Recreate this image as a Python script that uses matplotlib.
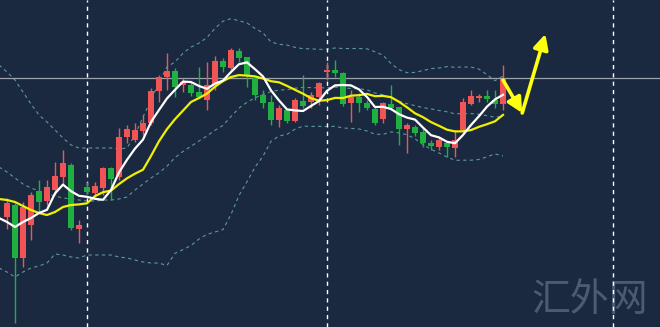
import matplotlib.pyplot as plt

# K线数据 (price)
opens = [1783, 1795, 1742, 1775, 1809, 1799, 1810, 1823, 1835, 1771, 1813, 1807, 1812, 1832, 1823, 1863,
         1860, 1869, 1877, 1909, 1923, 1929, 1915, 1915, 1908, 1900, 1915, 1939, 1932, 1949, 1943, 1922,
         1905, 1898, 1880, 1890, 1879, 1899, 1898, 1903, 1928, 1930, 1927, 1897, 1903, 1897, 1891, 1881,
         1896, 1893, 1871, 1873, 1868, 1857, 1853, 1857, 1852, 1870, 1896, 1902, 1904, 1900, 1896]
closes = [1797, 1742, 1793, 1805, 1798, 1813, 1824, 1837, 1772, 1775, 1808, 1814, 1832, 1821, 1863, 1871,
          1870, 1877, 1909, 1923, 1929, 1913, 1918, 1907, 1903, 1915, 1939, 1933, 1950, 1942, 1924, 1905,
          1897, 1880, 1892, 1879, 1900, 1894, 1905, 1917, 1930, 1927, 1896, 1903, 1897, 1892, 1877, 1897,
          1892, 1871, 1875, 1867, 1857, 1854, 1860, 1853, 1860, 1898, 1904, 1904, 1901, 1896, 1921]
highs = [1802, 1797, 1798, 1808, 1820, 1820, 1838, 1850, 1837, 1780, 1818, 1818, 1833, 1833, 1872, 1875,
         1877, 1885, 1912, 1925, 1947, 1932, 1922, 1918, 1933, 1938, 1944, 1942, 1952, 1952, 1943, 1923,
         1910, 1905, 1895, 1892, 1902, 1925, 1908, 1918, 1938, 1940, 1928, 1910, 1907, 1900, 1893, 1898,
         1915, 1893, 1877, 1875, 1872, 1860, 1862, 1858, 1870, 1902, 1910, 1906, 1910, 1910, 1935]
lows = [1771, 1677, 1733, 1760, 1787, 1795, 1805, 1815, 1770, 1757, 1806, 1803, 1805, 1800, 1820, 1857,
        1858, 1865, 1875, 1898, 1910, 1903, 1908, 1904, 1902, 1890, 1910, 1928, 1930, 1938, 1913, 1900,
        1892, 1875, 1873, 1877, 1878, 1892, 1892, 1895, 1920, 1923, 1894, 1878, 1888, 1890, 1875, 1877,
        1890, 1855, 1847, 1864, 1853, 1850, 1850, 1843, 1843, 1868, 1895, 1898, 1898, 1892, 1890]

# 均线与布林带 (从第一根K线前一根开始)
ma5 = [1782, 1778, 1773, 1778, 1782, 1787, 1790.2, 1806.6, 1815.4, 1808.8, 1804.2, 1803.2, 1801.2, 1800.2,
       1810, 1827.6, 1840.2, 1851.4, 1860.4, 1878, 1890, 1901.6, 1910.2, 1918.4, 1918, 1914, 1911.2, 1916.4,
       1919.4, 1928, 1935.8, 1937.6, 1930.8, 1923.6, 1909.6, 1899.6, 1890.6, 1889.6, 1889, 1894, 1899,
       1909.2, 1914.6, 1915, 1914.6, 1910.6, 1903, 1893, 1893.2, 1891, 1885.8, 1882.4, 1880.4, 1872.4,
       1864.8, 1862.6, 1858.2, 1856.8, 1865, 1875, 1883.8, 1893.4, 1900.6, 1905.2]
ma10 = [1801, 1800, 1798, 1794, 1790, 1787, 1785, 1788, 1793, 1795, 1795.6, 1796.7, 1803.9, 1807.8, 1809.4,
        1815.9, 1821.7, 1826.3, 1830.3, 1844, 1858.8, 1870.9, 1880.8, 1889.4, 1898, 1902, 1906.4, 1913.3,
        1918.9, 1923, 1924.9, 1924.4, 1923.6, 1921.5, 1918.8, 1917.7, 1914.1, 1910.2, 1906.3, 1901.8,
        1899.3, 1899.9, 1902.1, 1902, 1904.3, 1904.8, 1906.1, 1903.8, 1904.1, 1902.8, 1898.2, 1892.7,
        1886.7, 1882.8, 1877.9, 1874.2, 1870.3, 1868.6, 1868.7, 1869.9, 1873.2, 1875.8, 1878.7, 1885.1]
boll_up = [1935, 1928, 1920, 1908, 1896, 1885, 1878, 1870, 1862, 1855, 1852, 1852, 1852, 1852, 1852, 1851,
           1852, 1865, 1883, 1900, 1917.5, 1933.1, 1938, 1946.8, 1952.9, 1956.9, 1962.5, 1971.6, 1978.8,
           1981.4, 1979.2, 1977, 1971.6, 1967.1, 1958.1, 1955.7, 1954.9, 1952.7, 1951.3, 1951.2, 1950.6,
           1950.8, 1952, 1951.5, 1951.5, 1951.5, 1951.2, 1948.2, 1944.8, 1936.5, 1930.4, 1927.3, 1927.6,
           1929.4, 1931.4, 1932, 1933.4, 1932.7, 1933, 1932.9, 1930.9, 1925.3, 1919.3, 1923.9]
boll_mid = [1833, 1828, 1822, 1816, 1812, 1809, 1806, 1804, 1802, 1801, 1800, 1799, 1799, 1800, 1800, 1801,
            1803, 1810, 1816, 1822, 1827.2, 1833.8, 1842.4, 1848.6, 1853.7, 1859, 1864.1, 1869.8, 1874.6,
            1883.5, 1891.9, 1897.7, 1902.2, 1905.5, 1908.4, 1909.9, 1910.3, 1911.8, 1912.6, 1912.4, 1912.1,
            1912.2, 1912.9, 1911.8, 1911.6, 1911.3, 1910.1, 1907, 1905.2, 1902.3, 1898.8, 1896.3, 1894.4,
            1892.4, 1891.1, 1889.5, 1888.2, 1886.2, 1886.4, 1886.4, 1885.7, 1884.3, 1882.7, 1884]
boll_low = [1732, 1728, 1723, 1728, 1732, 1734, 1737, 1746, 1745, 1743, 1742, 1745, 1745, 1745, 1745, 1743,
            1742, 1740, 1738, 1737, 1736.9, 1734.5, 1746.7, 1750.4, 1754.5, 1761, 1765.6, 1768, 1770.4,
            1785.6, 1804.5, 1818.3, 1832.8, 1843.8, 1858.7, 1864, 1865.7, 1870.8, 1873.9, 1873.6, 1873.6,
            1873.5, 1873.7, 1872, 1871.6, 1871, 1869, 1865.8, 1865.6, 1868.1, 1867.1, 1865.3, 1861.2,
            1855.4, 1850.8, 1847, 1843, 1839.7, 1839.8, 1839.8, 1840.5, 1843.2, 1846.1, 1844]

ref_level = 1922
day_marks = [10, 40, 75.8]
arrow_x = [62, 64.4, 67.3]
arrow_y = [1920, 1887, 1966]

bg = "#1b2940"
up_col = "#f05454"
down_col = "#20b040"

fig = plt.figure(figsize=(6.6, 3.27), dpi=100)
fig.patch.set_facecolor(bg)
ax = fig.add_axes([0, 0, 1, 1])
ax.set_facecolor(bg)

n = len(closes)
idx = list(range(n))
line_idx = list(range(-1, n))

# 布林带
for band in (boll_up, boll_mid, boll_low):
    ax.plot(line_idx, band, color="#5a9a98", lw=0.8, ls=(0, (3, 3)), zorder=1)

# 参考线
ax.axhline(ref_level, color="#9aa3ad", lw=0.9, zorder=1)
for d in day_marks:
    ax.axvline(d, color="white", lw=1, ls=(0, (3, 3)), zorder=1)

# 蜡烛
for i in idx:
    o, c = opens[i], closes[i]
    col = up_col if c >= o else down_col
    ax.vlines(i, lows[i], highs[i], color=col, lw=1, zorder=2)
    ax.bar(i, max(abs(c - o), 1), bottom=min(o, c), width=0.72, color=col, zorder=3)

# 均线
ax.plot(line_idx, ma10, color="#f0f000", lw=1.6, zorder=4)
ax.plot(line_idx, ma5, color="white", lw=1.6, zorder=5)

# 箭头
for k in range(2):
    ax.annotate("", xy=(arrow_x[k + 1], arrow_y[k + 1]), xytext=(arrow_x[k], arrow_y[k]),
                arrowprops=dict(arrowstyle="-|>,head_length=0.9,head_width=0.45", color="#ffff10",
                                lw=2.6, shrinkA=0, shrinkB=0), zorder=6)

ax.text(0.893, 0.082, "汇外网", transform=ax.transAxes, ha="center", va="center", fontsize=28,
        color="#4a5b72", family=["Noto Sans CJK SC", "DejaVu Sans"], zorder=0)

ax.set_xlim(-0.875, 81.625)
ax.set_ylim(1673, 2000)
ax.axis("off")

fig.savefig("out.png", dpi=100, facecolor=bg)
